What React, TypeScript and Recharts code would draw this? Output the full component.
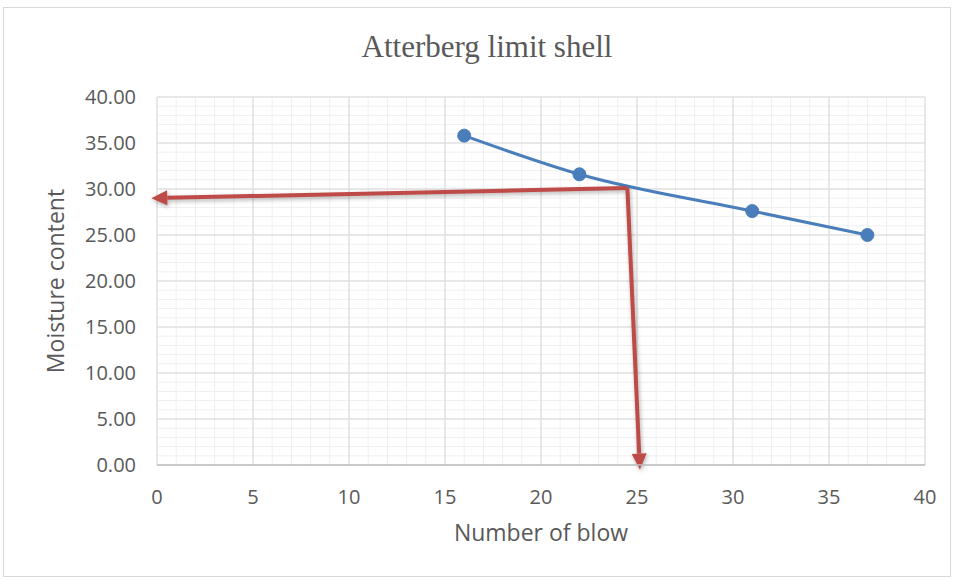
import React from "react";
import {
  LineChart,
  Line,
  XAxis,
  YAxis,
  CartesianGrid,
  ReferenceLine,
  Label,
} from "recharts";

const blows = [16, 22, 31, 37];
const moisture = [35.8, 31.6, 27.6, 25.0];
const xTicks = [0, 5, 10, 15, 20, 25, 30, 35, 40];
const yTicks = [0, 5, 10, 15, 20, 25, 30, 35, 40];
const minorValues = Array.from({ length: 41 }, (_, i) => i);

// Red guide arrows (liquid limit reading)
const arrowCorner = { x: 24.5, y: 30.1 };
const arrowLeftEnd = { x: -0.3, y: 29.0 };
const arrowDownEnd = { x: 25.15, y: -0.5 };

const data = blows.map((b, i) => ({ blows: b, moisture: moisture[i] }));

const FONT = "'Open Sans', 'Noto Sans', sans-serif";
const RED = "#be4b48";
const BLUE = "#4a7ebb";

const ArrowShape = (props: any) => {
  const { x1, y1, x2, y2 } = props;
  if ([x1, y1, x2, y2].some((v) => v == null || isNaN(v))) return null;
  const dx = x2 - x1;
  const dy = y2 - y1;
  const len = Math.sqrt(dx * dx + dy * dy) || 1;
  const ux = dx / len;
  const uy = dy / len;
  const headLen = 16;
  const headW = 7.5;
  const bx = x2 - ux * headLen;
  const by = y2 - uy * headLen;
  const px = -uy;
  const py = ux;
  const pts = `${x2},${y2} ${bx + px * headW},${by + py * headW} ${bx - px * headW},${by - py * headW}`;
  return (
    <g style={{ filter: "drop-shadow(1px 2px 2px rgba(0,0,0,0.3))" }}>
      <line x1={x1} y1={y1} x2={bx} y2={by} stroke={RED} strokeWidth={4} />
      <polygon points={pts} fill={RED} />
    </g>
  );
};

export default function App() {
  return (
    <div style={{ position: "absolute", left: 0, top: 0, width: 953, height: 580, background: "#fff" }}>
      <div
        style={{
          position: "absolute",
          left: 3,
          top: 7,
          width: 948,
          height: 570,
          border: "1px solid #d9d9d9",
          boxSizing: "border-box",
        }}
      />
      <div
        style={{
          position: "absolute",
          left: 0,
          top: 27,
          width: 974,
          textAlign: "center",
          fontFamily: "'Liberation Serif', 'Times New Roman', serif",
          fontSize: 31,
          color: "#595959",
          lineHeight: "40px",
        }}
      >
        Atterberg limit shell
      </div>
      <div style={{ position: "absolute", left: 0, top: 0 }}>
        <LineChart
          width={953}
          height={580}
          data={data}
          margin={{ top: 97, right: 28, bottom: 50, left: 70 }}
        >
          <CartesianGrid
            stroke="#efefef"
            strokeWidth={1}
            horizontalValues={minorValues}
            verticalValues={minorValues}
          />
          <CartesianGrid
            stroke="#d9d9d9"
            strokeWidth={1}
            horizontalValues={yTicks}
            verticalValues={xTicks}
          />
          <XAxis
            dataKey="blows"
            type="number"
            domain={[0, 40]}
            ticks={xTicks}
            interval={0}
            axisLine={{ stroke: "#bfbfbf", strokeWidth: 1.5 }}
            tickLine={false}
            tickMargin={19}
            height={65}
            tick={{ fill: "#595959", fontSize: 20, fontFamily: FONT }}
          >
            <Label
              value="Number of blow"
              position="insideBottom"
              offset={-11}
              style={{ fill: "#595959", fontSize: 23, fontFamily: FONT }}
            />
          </XAxis>
          <YAxis
            type="number"
            domain={[0, 40]}
            ticks={yTicks}
            interval={0}
            axisLine={false}
            tickLine={false}
            tickMargin={15}
            width={87}
            tickFormatter={(v: number) => v.toFixed(2)}
            tick={{ fill: "#595959", fontSize: 20, fontFamily: FONT }}
          >
            <Label
              value="Moisture content"
              angle={-90}
              position="insideLeft"
              offset={-14}
              style={{ textAnchor: "middle", fill: "#595959", fontSize: 23, fontFamily: FONT }}
            />
          </YAxis>
          <Line
            dataKey="moisture"
            type="monotone"
            stroke={BLUE}
            strokeWidth={3}
            dot={{ r: 6.5, fill: BLUE, stroke: BLUE, strokeWidth: 1 }}
            isAnimationActive={false}
          />
          <ReferenceLine
            segment={[arrowCorner, arrowLeftEnd]}
            ifOverflow="visible"
            shape={ArrowShape}
          />
          <ReferenceLine
            segment={[arrowCorner, arrowDownEnd]}
            ifOverflow="visible"
            shape={ArrowShape}
          />
        </LineChart>
      </div>
    </div>
  );
}
